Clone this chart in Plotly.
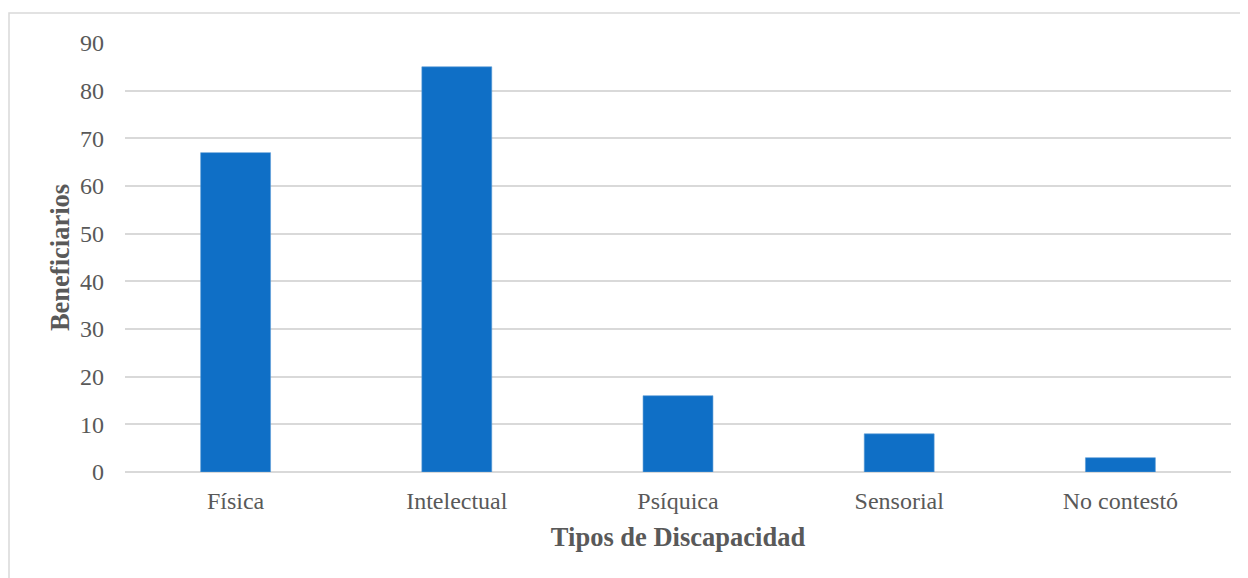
import plotly.graph_objects as go

categories = ["Física", "Intelectual", "Psíquica", "Sensorial", "No contestó"]
beneficiarios = [67, 85, 16, 8, 3]
y_ticks = [0, 10, 20, 30, 40, 50, 60, 70, 80, 90]

FONT = "Liberation Serif, Times New Roman, serif"
TXT = "#595959"

fig = go.Figure(go.Bar(
    x=categories, y=beneficiarios,
    marker=dict(color="#0F6FC6", line=dict(color="#5B9BD5", width=0.6)),
    width=0.316,
))

# page body has an 8px margin, so figure is 1240x570 placed at (8,8)
fig.update_layout(
    width=1240, height=570,
    margin=dict(l=117, r=17, t=35, b=106),
    paper_bgcolor="white", plot_bgcolor="white",
    font=dict(family=FONT, color=TXT, size=24),
    showlegend=False,
    bargap=0.68,
    xaxis=dict(
        title=dict(text="<b>Tipos de Discapacidad</b>", font=dict(size=26.5, color=TXT), standoff=14),
        tickfont=dict(size=24, color=TXT),
        showline=False, showgrid=False, ticks="", ticklabelstandoff=12,
    ),
    yaxis=dict(
        title=dict(text="<b>Beneficiarios</b>", font=dict(size=26.5, color=TXT), standoff=2),
        range=[0, 90], tickvals=y_ticks,
        tickfont=dict(size=24, color=TXT),
        showgrid=True, gridcolor="#D9D9D9", gridwidth=1.5,
        zeroline=True, zerolinecolor="#D9D9D9", zerolinewidth=1.5,
        showline=False, ticks="", ticklabelstandoff=20,
    ),
    shapes=[dict(
        type="rect", xref="paper", yref="paper",
        x0=(9 - 125) / 1106, x1=(1256 - 125) / 1106,
        y0=(472 - 590) / 429, y1=(472 - 13) / 429,
        line=dict(color="#D9D9D9", width=1.5), fillcolor="rgba(0,0,0,0)",
        layer="below",
    )],
)

fig.write_html("out.html")
